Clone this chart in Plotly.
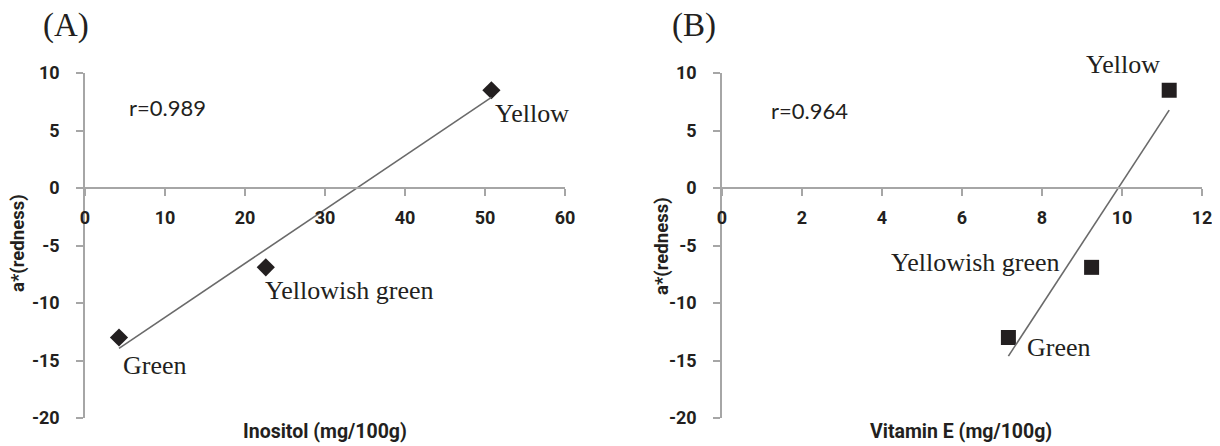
import numpy as np
import plotly.graph_objects as go

# ---- data ----
colour_names = ["Green", "Yellowish green", "Yellow"]
redness_a = [-13.0, -6.9, 8.5]
inositol = [4.25, 22.6, 50.8]
vitamin_e = [7.16, 9.24, 11.18]
r_inositol = "r=0.989"
r_vitamin_e = "r=0.964"
y_ticks = [-20, -15, -10, -5, 0, 5, 10]
y_tick_labels = ["-20", "-15", "-10", "-5", "0", "5", "10"]

# page body has an 8px default margin: figure is drawn from (8, 8)
OFF = 8
W, H = 1220 - OFF, 446 - OFF
TOP, BOT = 73, 418          # plot area in window pixels
MT, MB = TOP - OFF, 446 - BOT
PH = H - MT - MB


def px(x):
    return (x - OFF) / W


def py(y):
    return 1 - (y - TOP) / PH


TXT = "#231f20"
AX = "#a6a6a6"
SANS = "Roboto, Lato, sans-serif"
SERIF = "'Liberation Serif', 'Times New Roman', serif"

fig = go.Figure()

# markers
fig.add_trace(go.Scatter(x=inositol, y=redness_a, mode="markers",
                         marker=dict(symbol="diamond", size=14, color=TXT),
                         xaxis="x", yaxis="y", showlegend=False))
fig.add_trace(go.Scatter(x=vitamin_e, y=redness_a, mode="markers",
                         marker=dict(symbol="square", size=15, color=TXT),
                         xaxis="x2", yaxis="y2", showlegend=False))

# least-squares trend lines
for xs, xa, ya in [(inositol, "x", "y"), (vitamin_e, "x2", "y2")]:
    k, b = np.polyfit(xs, redness_a, 1)
    xl = np.array([min(xs), max(xs)])
    fig.add_trace(go.Scatter(x=xl, y=k * xl + b, mode="lines",
                             line=dict(color="#6a6a6a", width=1.6),
                             xaxis=xa, yaxis=ya, showlegend=False))

zero_pos = (0 - (-20)) / (10 - (-20))

tickfont = dict(family=SANS, size=18, color=TXT, weight=700)
common_x = dict(showline=True, linecolor=AX, linewidth=1.5, ticks="outside",
                tickcolor=AX, ticklen=7, tickwidth=1.5, showgrid=False,
                zeroline=False, anchor="free", position=zero_pos,
                tickfont=tickfont, ticklabelstandoff=7, automargin=False)
common_y = dict(range=[-20, 10], tickmode="array", tickvals=y_ticks,
                ticktext=y_tick_labels, showline=True, linecolor=AX,
                linewidth=1.5, ticks="outside", tickcolor=AX, ticklen=7,
                tickwidth=1.5, showgrid=False, zeroline=False,
                tickfont=tickfont, ticklabelstandoff=13, automargin=False)

fig.update_layout(
    width=W, height=H,
    margin=dict(l=0, r=0, t=MT, b=MB, autoexpand=False),
    plot_bgcolor="white", paper_bgcolor="white",
    xaxis=dict(domain=[px(85), px(565)], range=[0, 60], dtick=10, **common_x),
    yaxis=dict(domain=[0, 1], anchor="x", **common_y),
    xaxis2=dict(domain=[px(722), px(1202)], range=[0, 12], dtick=2, **common_x),
    yaxis2=dict(domain=[0, 1], anchor="x2", **common_y),
)

ann = []


def lab(text, x, y, xref, yref, size, family, xanchor="left", weight=400,
        textangle=0):
    ann.append(dict(text=text, x=x, y=y, xref=xref, yref=yref,
                    xanchor=xanchor, yanchor="middle", showarrow=False,
                    textangle=textangle,
                    font=dict(size=size, family=family, color=TXT,
                              weight=weight)))


# panel labels
lab("(A)", px(41), py(26), "paper", "paper", 33, SERIF)
lab("(B)", px(670), py(26), "paper", "paper", 33, SERIF)

# r values
lab(r_inositol, 5.2, 6.96, "x", "y", 22, "Lato, sans-serif")
lab(r_vitamin_e, 1.18, 6.7, "x2", "y2", 22, "Lato, sans-serif")

# point labels panel A
lab(colour_names[2], 51.0, 6.5, "x", "y", 26, SERIF)
lab(colour_names[1], 22.3, -8.87, "x", "y", 26, SERIF)
lab(colour_names[0], 4.5, -15.4, "x", "y", 26, SERIF)
# point labels panel B
lab(colour_names[2], 9.05, py(65), "x2", "paper", 26, SERIF)
lab(colour_names[1], 8.5, -6.52, "x2", "y2", 26, SERIF, xanchor="right")
lab(colour_names[0], 7.58, -13.91, "x2", "y2", 26, SERIF)

# axis titles
lab("Inositol (mg/100g)", px(325), py(432), "paper", "paper", 19.5, SANS,
    xanchor="center", weight=700)
lab("Vitamin E (mg/100g)", px(961), py(432), "paper", "paper", 19.5, SANS,
    xanchor="center", weight=700)
lab("a*(redness)", px(18), py(243), "paper", "paper", 18.5, SANS,
    xanchor="center", weight=700, textangle=-90)
lab("a*(redness)", px(662), py(246), "paper", "paper", 18.5, SANS,
    xanchor="center", weight=700, textangle=-90)

fig.update_layout(annotations=ann)

fig.write_html("out.html")
